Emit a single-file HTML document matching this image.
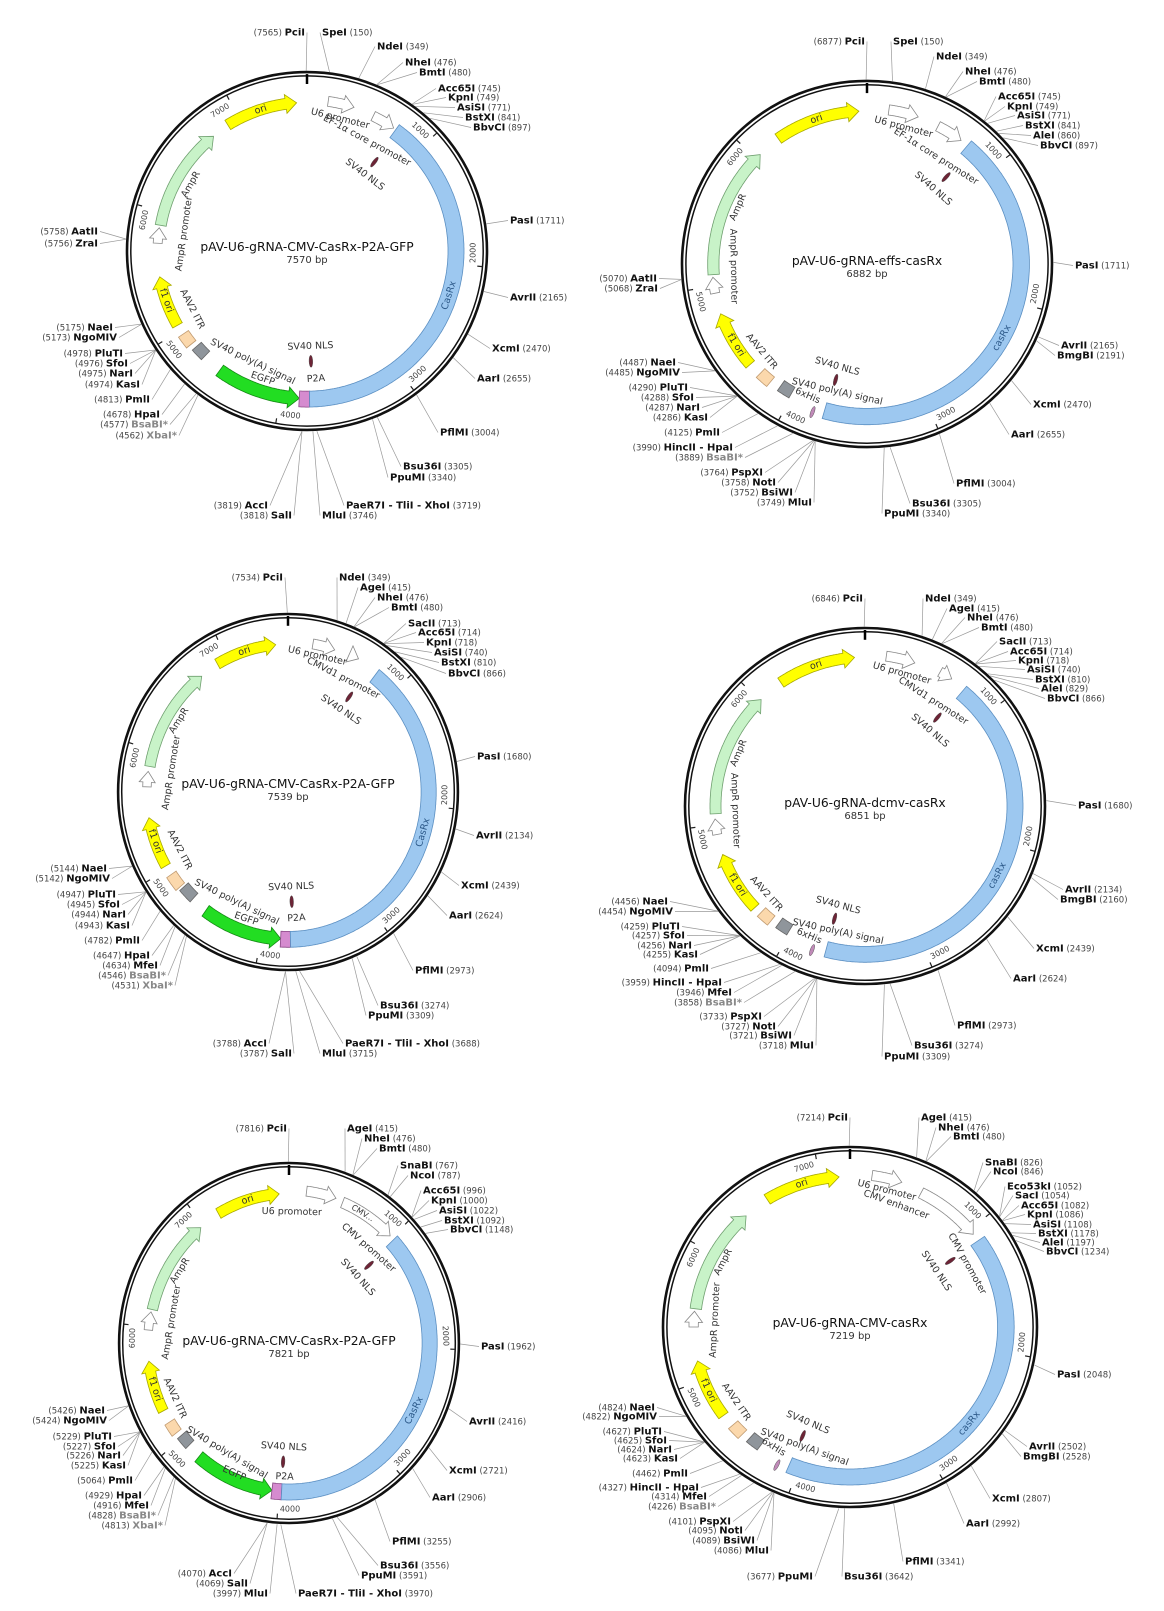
<!DOCTYPE html>
<html><head><meta charset="utf-8"><style>
html,body{margin:0;padding:0;background:#fff;}
svg{display:block;font-family:"DejaVu Sans","Liberation Sans",sans-serif;}
</style></head><body>
<svg id="s" width="1164" height="1611" viewBox="0 0 1164 1611" xmlns="http://www.w3.org/2000/svg"></svg>
<script>
const Y=['#ffff00','#a8a800'],G=['#c8f3c8','#6f9f6f'],W=['#ffffff','#888'],BE=['#fbd8ac','#c09a70'],GR=['#8f959b','#666'],GN=['#22dd22','#138a13'],PK=['#d58bcf','#8a4a86'],BL=['#9dc8f0','#5b8fc2'];
const NLS='#6d2436',HIS='#c08ab8';
function fx(n){return n.toFixed(1);}
function P(m,a,r){const t=a*Math.PI/180;return [m.cx+m.sx*r*Math.sin(t),m.cy-m.sy*r*Math.cos(t)];}
function band(m,a1,a2,dir,rI,rO,c){
 const mid=(rI+rO)/2,hw=4,hl=11/mid*180/Math.PI;let b1=a1,b2=a2;
 if(dir===1)b2=Math.max(a1,a2-hl);if(dir===-1)b1=Math.min(a2,a1+hl);
 let p=[];for(let a=b1;a<b2;a+=0.5)p.push(P(m,a,rO));p.push(P(m,b2,rO));
 if(dir===1){p.push(P(m,b2,rO+hw));p.push(P(m,a2,mid));p.push(P(m,b2,rI-hw));}
 for(let a=b2;a>b1;a-=0.5)p.push(P(m,a,rI));p.push(P(m,b1,rI));
 if(dir===-1){p.push(P(m,b1,rI-hw));p.push(P(m,a1,mid));p.push(P(m,b1,rO+hw));}
 return `<polygon points="${p.map(q=>fx(q[0])+','+fx(q[1])).join(' ')}" fill="${c[0]}" stroke="${c[1]}" stroke-width="0.8"/>`;
}
function rot(a){a=((a%360)+360)%360;return (a<90||a>270)?a:a-180;}
function lab(m,t,a,r,size,col){const [x,y]=P(m,a,r);return `<text x="${fx(x)}" y="${fx(y)}" transform="rotate(${fx(rot(a))} ${fx(x)} ${fx(y)})" text-anchor="middle" dominant-baseline="central" font-size="${size||9.5}" fill="${col||'#333'}">${t}</text>`;}
function draw(m){
 let s='';
 m.enz.forEach(e=>{const [n,pos,x,y,side,g]=e;const a=pos/m.total*360;const [px,py]=P(m,a,181.5);
  const ex=side==='R'?x-2:x+2;s+=`<line x1="${fx(px)}" y1="${fx(py)}" x2="${ex}" y2="${y+0.5}" stroke="#999" stroke-width="0.7"/>`;});
 s+=`<ellipse cx="${m.cx}" cy="${m.cy}" rx="${fx(180*m.sx)}" ry="${fx(180*m.sy)}" fill="none" stroke="#111" stroke-width="2.6"/>`;
 s+=`<ellipse cx="${m.cx}" cy="${m.cy}" rx="${fx(176.2*m.sx)}" ry="${fx(176.2*m.sy)}" fill="none" stroke="#111" stroke-width="1.5"/>`;
 let [t1x,t1y]=P(m,0,168),[t2x,t2y]=P(m,0,178);
 s+=`<line x1="${fx(t1x)}" y1="${fx(t1y)}" x2="${fx(t2x)}" y2="${fx(t2y)}" stroke="#000" stroke-width="2.5"/>`;
 for(let k=1000;k<m.total;k+=1000){const a=k/m.total*360;const [ax,ay]=P(m,a,171),[bx,by]=P(m,a,176);
  s+=`<line x1="${fx(ax)}" y1="${fx(ay)}" x2="${fx(bx)}" y2="${fx(by)}" stroke="#222" stroke-width="1.2"/>`;
  s+=lab(m,String(k),a-4.5,166,8,'#444');}
 m.feats.forEach(f=>{
  if(f[0]==='ell'){const [x,y]=P(m,f[1],f[2]);s+=`<ellipse cx="${fx(x)}" cy="${fx(y)}" rx="1.8" ry="6" fill="${f[3]}" stroke="#444" stroke-width="0.4" transform="rotate(${fx(f[1])} ${fx(x)} ${fx(y)})"/>`;}
  else s+=band(m,f[1],f[2],f[3],f[4],f[5],f[6]);
 });
 m.labels.forEach(l=>{s+=lab(m,l[0],l[1],l[2],l[3],l[4]);});
 s+=`<text x="${m.cx}" y="${m.ty+4}" text-anchor="middle" font-size="12.3" fill="#111">${m.title}</text>`;
 s+=`<text x="${m.cx}" y="${m.ty+16}" text-anchor="middle" font-size="10" fill="#333">${m.total} bp</text>`;
 m.enz.forEach(e=>{const [n,pos,x,y,side,g]=e;const nc=g?'#888':'#111';
  if(side==='R')s+=`<text x="${x}" y="${y+3.5}" font-size="8.5"><tspan font-weight="bold" font-size="10" fill="${nc}">${n}</tspan><tspan fill="#444">  (${pos})</tspan></text>`;
  else s+=`<text x="${x}" y="${y+3.5}" font-size="8.5" text-anchor="end"><tspan fill="#444">(${pos})  </tspan><tspan font-weight="bold" font-size="10" fill="${nc}">${n}</tspan></text>`;});
 return s;
}
function E(list,side){return list.map(e=>[e[0],e[1],e[2],e[3],side,e[4]]);}
const maps=[
{cx:307,cy:251,sx:1,sy:0.994,total:7570,title:'pAV-U6-gRNA-CMV-CasRx-P2A-GFP',ty:247,
feats:[['b',328,356,1,144,155,Y],['b',280,321,1,143,154,G],['b',273,279,1,145,154,W],['b',240,260,1,144,155,Y],['b',231,236,0,143,155,BE],['b',224,229,0,140,152,GR],['b',183,216,-1,142,155,GN],['b',179,183,0,141,157,PK],['b',36,179,0,141,157,BL],['b',8,18,1,147,157,W],['b',26,35,1,146,156,W],['ell',37,112,NLS],['ell',178,111,NLS]],
labels:[['ori',342,149.5],['U6 promoter',14,137],['EF-1α core promoter',28.4,126],['SV40 NLS',37,96],['AmpR',300,134],['AmpR promoter',278,124],['f1 ori',250.5,149.5],['AAV2 ITR',243,129],['SV40 poly(A) signal',206,124],['EGFP',199,136],['SV40 NLS',178,96],['P2A',176,129],['CasRx',107.5,149,9.5,'#2d5a8a']],
enz:E([['SpeI',150,322,32],['NdeI',349,377,46],['NheI',476,405,62],['BmtI',480,419,72],['Acc65I',745,438,88],['KpnI',749,448,97],['AsiSI',771,457,107],['BstXI',841,465,117],['BbvCI',897,473,127],['PasI',1711,510,220],['AvrII',2165,510,297],['XcmI',2470,492,348],['AarI',2655,477,378],['PflMI',3004,440,432],['Bsu36I',3305,403,466],['PpuMI',3340,390,477],['PaeR7I - TliI - XhoI',3719,346,505],['MluI',3746,322,515]],'R').concat(E([['PciI',7565,305,32],['AccI',3819,268,505],['SalI',3818,292,515],['AatII',5758,98,231],['ZraI',5756,98,243],['NaeI',5175,113,327],['NgoMIV',5173,117,337],['PluTI',4978,123,353],['SfoI',4976,128,363],['NarI',4975,133,373],['KasI',4974,140,384],['PmlI',4813,150,399],['HpaI',4678,160,414],['BsaBI*',4577,168,424,1],['XbaI*',4562,177,435,1]],'L'))},
{cx:867,cy:264,sx:1.028,sy:1.017,total:6882,title:'pAV-U6-gRNA-effs-casRx',ty:261,
feats:[['b',325,357,1,145,156,Y],['b',266,316,1,144,155,G],['b',259,265,1,146,155,W],['b',229,251,1,145,156,Y],['b',219,224,0,143,155,BE],['b',210,215,0,140,152,GR],['ell',200,155,HIS],['b',40,196,0,142,158,BL],['b',8,19,1,148,158,W],['b',27,37,1,147,157,W],['ell',42,115,NLS],['ell',195,118,NLS]],
labels:[['ori',341,150.5],['U6 promoter',14.8,139],['EF-1α core promoter',32.4,125],['SV40 NLS',41,98],['AmpR',294,137],['AmpR promoter',269,130],['f1 ori',238,150.5],['AAV2 ITR',230,134],['SV40 NLS',196,105],['SV40 poly(A) signal',193,129],['6xHis',204,142],['casRx',119,150,9.5,'#2d5a8a']],
enz:E([['SpeI',150,893,41],['NdeI',349,936,56],['NheI',476,965,71],['BmtI',480,979,81],['Acc65I',745,998,96],['KpnI',749,1007,106],['AsiSI',771,1017,115],['BstXI',841,1025,125],['AleI',860,1033,135],['BbvCI',897,1040,145],['PasI',1711,1075,265],['AvrII',2165,1061,345],['BmgBI',2191,1057,355],['XcmI',2470,1033,404],['AarI',2655,1011,434],['PflMI',3004,956,483],['Bsu36I',3305,912,503],['PpuMI',3340,884,513]],'R').concat(E([['PciI',6877,865,41],['AatII',5070,657,278],['ZraI',5068,658,288],['NaeI',4487,676,362],['NgoMIV',4485,680,372],['PluTI',4290,688,387],['SfoI',4288,694,397],['NarI',4287,700,407],['KasI',4286,708,417],['PmlI',4125,720,432],['HincII - HpaI',3990,733,447],['BsaBI*',3889,743,457,1],['PspXI',3764,763,472],['NotI',3758,776,482],['BsiWI',3752,793,492],['MluI',3749,812,502]],'L'))},
{cx:288,cy:792,sx:0.944,sy:0.989,total:7539,title:'pAV-U6-gRNA-CMV-CasRx-P2A-GFP',ty:784,
feats:[['b',330,355,1,144,155,Y],['b',280,322,1,143,154,G],['b',272,278,1,145,154,W],['b',240,260,1,144,155,Y],['b',230,236,0,143,155,BE],['b',223,229,0,140,152,GR],['b',183,216,-1,142,155,GN],['b',179,183,0,141,157,PK],['b',38,179,0,141,157,BL],['b',10,19,1,147,157,W],['b',25,29,1,149,159,W],['ell',34,116,NLS],['ell',178,111,NLS]],
labels:[['ori',342,149.5],['U6 promoter',12.7,141],['CMVd1 promoter',27,129],['SV40 NLS',34,100],['AmpR',302,136],['AmpR promoter',279,125],['f1 ori',250.5,149.5],['AAV2 ITR',243,129],['SV40 poly(A) signal',206,124],['EGFP',199,136],['SV40 NLS',178,96],['P2A',176,128],['CasRx',106,149,9.5,'#2d5a8a']],
enz:E([['NdeI',349,339,577],['AgeI',415,360,587],['NheI',476,377,597],['BmtI',480,391,607],['SacII',713,408,623],['Acc65I',714,418,632],['KpnI',718,426,642],['AsiSI',740,434,652],['BstXI',810,441,662],['BbvCI',866,448,673],['PasI',1680,477,756],['AvrII',2134,476,835],['XcmI',2439,461,885],['AarI',2624,449,915],['PflMI',2973,415,970],['Bsu36I',3274,380,1005],['PpuMI',3309,368,1015],['PaeR7I - TliI - XhoI',3688,345,1043],['MluI',3715,322,1053]],'R').concat(E([['PciI',7534,283,577],['AccI',3788,267,1043],['SalI',3787,292,1053],['NaeI',5144,107,868],['NgoMIV',5142,110,878],['PluTI',4947,116,894],['SfoI',4945,120,904],['NarI',4944,126,914],['KasI',4943,130,925],['PmlI',4782,140,940],['HpaI',4647,150,955],['MfeI',4634,158,965],['BsaBI*',4546,166,975,1],['XbaI*',4531,173,985,1]],'L'))},
{cx:865,cy:806,sx:1,sy:0.989,total:6851,title:'pAV-U6-gRNA-dcmv-casRx',ty:803,
feats:[['b',326,356,1,145,156,Y],['b',267,316,1,144,155,G],['b',259,265,1,146,155,W],['b',227,251,1,145,156,Y],['b',219,224,0,143,155,BE],['b',211,216,0,140,152,GR],['ell',200,155,HIS],['b',40,195,0,142,158,BL],['b',8,19,1,148,158,W],['b',29,34,1,150,160,W],['ell',39,115,NLS],['ell',195,118,NLS]],
labels:[['ori',341,150.5],['U6 promoter',15.4,139],['CMVd1 promoter',32.7,126],['SV40 NLS',40.5,100],['AmpR',293,137],['AmpR promoter',268,130],['f1 ori',238,150.5],['AAV2 ITR',228,133],['SV40 NLS',195,104],['SV40 poly(A) signal',192,130],['6xHis',203,143],['casRx',118,150,9.5,'#2d5a8a']],
enz:E([['NdeI',349,925,598],['AgeI',415,949,608],['NheI',476,967,617],['BmtI',480,981,627],['SacII',713,999,641],['Acc65I',714,1010,651],['KpnI',718,1018,660],['AsiSI',740,1027,669],['BstXI',810,1035,679],['AleI',829,1041,688],['BbvCI',866,1047,698],['PasI',1680,1078,805],['AvrII',2134,1065,889],['BmgBI',2160,1060,899],['XcmI',2439,1036,948],['AarI',2624,1013,978],['PflMI',2973,957,1025],['Bsu36I',3274,914,1045],['PpuMI',3309,884,1056]],'R').concat(E([['PciI',6846,863,598],['NaeI',4456,668,901],['NgoMIV',4454,673,911],['PluTI',4259,680,926],['SfoI',4257,685,935],['NarI',4256,692,945],['KasI',4255,698,954],['PmlI',4094,709,968],['HincII - HpaI',3959,722,982],['MfeI',3946,732,992],['BsaBI*',3858,742,1002,1],['PspXI',3733,762,1016],['NotI',3727,776,1026],['BsiWI',3721,792,1035],['MluI',3718,814,1045]],'L'))},
{cx:289,cy:1343,sx:0.944,sy:1,total:7821,title:'pAV-U6-gRNA-CMV-CasRx-P2A-GFP',ty:1341,
feats:[['b',330,356,1,144,155,Y],['b',283,321,1,143,154,G],['b',275,282,1,145,154,W],['b',243,263,1,144,155,Y],['b',233,238,0,143,155,BE],['b',226,231,0,140,152,GR],['b',187,220,-1,142,155,GN],['b',183,187,0,141,157,PK],['b',47,183,0,141,157,BL],['b',7,19,1,148,158,W],['b',22,45,1,146,157,W],['ell',47.5,115,NLS],['ell',183,119,NLS]],
labels:[['ori',343,149.5],['U6 promoter',1.3,131],['CMV promoter',41.5,127],['SV40 NLS',48,98],['AmpR',302,136],['AmpR promoter',279.5,126],['f1 ori',252,149.5],['AAV2 ITR',245.5,133],['SV40 poly(A) signal',211,128],['EGFP',204,143],['SV40 NLS',183,104],['P2A',182,134],['CasRx',117,149,9.5,'#2d5a8a'],['CMV...',31,151.5,8]],
enz:E([['AgeI',415,347,1128],['NheI',476,364,1138],['BmtI',480,379,1148],['SnaBI',767,400,1165],['NcoI',787,410,1175],['Acc65I',996,423,1190],['KpnI',1000,431,1200],['AsiSI',1022,439,1210],['BstXI',1092,444,1220],['BbvCI',1148,450,1229],['PasI',1962,481,1346],['AvrII',2416,469,1421],['XcmI',2721,449,1470],['AarI',2906,432,1497],['PflMI',3255,392,1541],['Bsu36I',3556,380,1565],['PpuMI',3591,361,1575],['PaeR7I - TliI - XhoI',3970,298,1593]],'R').concat(E([['PciI',7816,287,1128],['AccI',4070,232,1573],['SalI',4069,248,1583],['MluI',3997,268,1593],['NaeI',5426,105,1410],['NgoMIV',5424,107,1420],['PluTI',5229,112,1436],['SfoI',5227,116,1446],['NarI',5226,121,1455],['KasI',5225,126,1465],['PmlI',5064,133,1480],['HpaI',4929,142,1495],['MfeI',4916,149,1505],['BsaBI*',4828,156,1515,1],['XbaI*',4813,163,1525,1]],'L'))},
{cx:850,cy:1327,sx:1.039,sy:1,total:7219,title:'pAV-U6-gRNA-CMV-casRx',ty:1323,
feats:[['b',328,356,1,145,156,Y],['b',277,318,1,144,155,G],['b',270,276,1,146,155,W],['b',234,257,1,145,156,Y],['b',224,229,0,143,155,BE],['b',216,221,0,140,152,GR],['ell',207,155,HIS],['b',55,203,0,142,158,BL],['b',8,19,1,148,158,W],['b',27,52,1,145,156,W],['ell',55.6,117,NLS],['ell',202.7,118,NLS]],
labels:[['ori',342,150.5],['U6 promoter',14.5,141],['CMV enhancer',20,130],['CMV promoter',60.7,129],['SV40 NLS',56,100],['AmpR',298,138],['AmpR promoter',273,130],['f1 ori',245,150.5],['AAV2 ITR',235.6,133],['SV40 NLS',203,104],['SV40 poly(A) signal',200,128],['6xHis',211.5,141],['casRx',130,150,9.5,'#2d5a8a']],
enz:E([['AgeI',415,921,1117],['NheI',476,938,1127],['BmtI',480,953,1136],['SnaBI',826,985,1162],['NcoI',846,993,1171],['Eco53kI',1052,1007,1186],['SacI',1054,1015,1195],['Acc65I',1082,1021,1205],['KpnI',1086,1027,1214],['AsiSI',1108,1033,1224],['BstXI',1178,1038,1233],['AleI',1197,1042,1242],['BbvCI',1234,1046,1251],['PasI',2048,1057,1374],['AvrII',2502,1029,1446],['BmgBI',2528,1023,1456],['XcmI',2807,992,1498],['AarI',2992,966,1523],['PflMI',3341,905,1561],['Bsu36I',3642,844,1576]],'R').concat(E([['PciI',7214,848,1117],['PpuMI',3677,813,1576],['NaeI',4824,655,1407],['NgoMIV',4822,657,1416],['PluTI',4627,662,1431],['SfoI',4625,667,1440],['NarI',4624,672,1449],['KasI',4623,678,1458],['PmlI',4462,688,1473],['HincII - HpaI',4327,699,1487],['MfeI',4314,707,1496],['BsaBI*',4226,716,1506,1],['PspXI',4101,731,1521],['NotI',4095,743,1530],['BsiWI',4089,755,1540],['MluI',4086,769,1550]],'L'))}
];
let out='<rect width="1164" height="1611" fill="#fff"/>';
maps.forEach(m=>{out+=draw(m);});
document.getElementById('s').innerHTML=out;
</script>
</body></html>
